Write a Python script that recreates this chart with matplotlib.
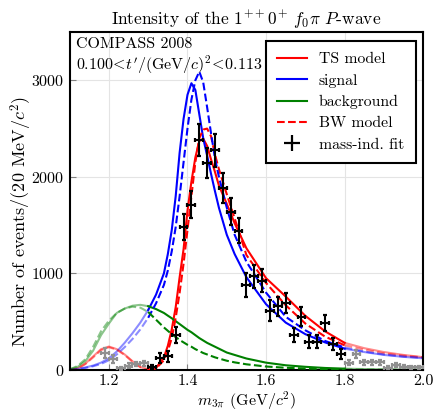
import numpy as np
import matplotlib
matplotlib.use("Agg")
import matplotlib.pyplot as plt

plt.rcParams["font.family"] = ["cmr10", "DejaVu Serif"]
plt.rcParams["mathtext.fontset"] = "cm"
plt.rcParams["axes.formatter.use_mathtext"] = True
plt.rcParams["font.size"] = 11

# model curves on a common mass grid (GeV/c^2)
mass = [1.10, 1.12, 1.14, 1.16, 1.18, 1.20, 1.22, 1.24, 1.26, 1.28, 1.30,
        1.32, 1.34, 1.35, 1.36, 1.37, 1.38, 1.39, 1.40, 1.41, 1.42, 1.43,
        1.44, 1.45, 1.46, 1.47, 1.48, 1.50, 1.52, 1.55, 1.60, 1.65, 1.70,
        1.75, 1.80, 1.85, 1.90, 1.95, 2.00]
ts_model = [0, 15, 65, 140, 215, 242, 215, 160, 90, 30, 3,
            20, 130, 250, 420, 650, 960, 1250, 1650, 1950, 2200, 2370,
            2395, 2320, 2180, 2050, 1910, 1720, 1520, 1260, 950, 760, 560,
            400, 280, 225, 185, 155, 132]
ts_signal = [3, 10, 25, 45, 75, 120, 190, 280, 380, 490, 620,
             780, 1000, 1200, 1450, 1800, 2250, 2600, 2850, 2970, 2900, 2650,
             2400, 2220, 2030, 1850, 1680, 1400, 1200, 960, 680, 490, 370,
             285, 220, 185, 155, 135, 120]
ts_background = [5, 30, 90, 200, 360, 480, 590, 635, 665, 674, 660,
                 630, 590, 562, 535, 505, 475, 445, 415, 390, 360, 330,
                 305, 280, 260, 240, 220, 180, 155, 118, 75, 48, 32,
                 20, 13, 9, 6, 4, 3]
bw_model = [0, 12, 60, 130, 205, 235, 210, 155, 85, 28, 3,
            15, 100, 195, 330, 540, 800, 1100, 1450, 1800, 2150, 2400,
            2490, 2500, 2420, 2230, 2080, 1820, 1570, 1190, 900, 670, 480,
            345, 255, 210, 172, 148, 130]
bw_signal = [2, 8, 20, 38, 62, 100, 160, 235, 320, 420, 540,
             690, 880, 1030, 1230, 1480, 1800, 2150, 2500, 2800, 3000, 3090,
             2980, 2720, 2450, 2190, 2000, 1680, 1400, 1120, 800, 550, 410,
             300, 232, 190, 160, 138, 125]
bw_background = [5, 40, 110, 240, 400, 510, 590, 635, 655, 645, 600,
                 520, 440, 405, 370, 340, 310, 285, 260, 240, 215, 195,
                 175, 160, 145, 130, 118, 95, 78, 58, 35, 22, 14,
                 9, 6, 4, 3, 2, 1]

# mass-independent fit points inside the fit range
fit_mass = [1.31, 1.33, 1.35, 1.37, 1.39, 1.41, 1.43, 1.45, 1.47, 1.49,
            1.51, 1.53, 1.55, 1.57, 1.59, 1.61, 1.63, 1.65, 1.67, 1.69,
            1.71, 1.73, 1.75, 1.77, 1.79]
fit_int = [30, 120, 140, 360, 1485, 1710, 2383, 2142, 2273, 1883,
           1641, 1444, 880, 970, 925, 615, 660, 691, 363, 553,
           293, 293, 484, 269, 166]
fit_err = [20, 50, 55, 85, 135, 140, 165, 155, 170, 155,
           140, 130, 120, 120, 120, 105, 100, 105, 75, 100,
           70, 65, 85, 60, 50]

# points outside the fit range
out_mass = [1.19, 1.21, 1.23, 1.25, 1.27, 1.29, 1.81, 1.83, 1.85, 1.87,
            1.89, 1.91, 1.93, 1.95, 1.97, 1.99]
out_int = [173, 111, 17, 45, 62, 69, 76, 166, 80, 80,
           80, 21, 52, 35, 25, 25]
out_err = [50, 40, 15, 25, 25, 25, 25, 40, 25, 25,
           25, 15, 20, 15, 15, 15]

fit_lo, fit_hi = 1.30, 1.80
red, blue, green = "#ff0000", "#0000ff", "#008000"

fig = plt.figure(figsize=(4.35, 4.11), dpi=100)
ax = fig.add_axes([0.160, 0.100, 0.813, 0.822])

x = np.array(mass)
inside = (x >= fit_lo) & (x <= fit_hi)
left = x <= fit_lo
right = x >= fit_hi

curves = [
    (ts_model, red, "-", "TS model"),
    (ts_signal, blue, "-", "signal"),
    (ts_background, green, "-", "background"),
    (bw_model, red, "--", "BW model"),
    (bw_signal, blue, "--", None),
    (bw_background, green, "--", None),
]
for vals, col, ls, lab in curves:
    y = np.array(vals)
    ax.plot(x[inside], y[inside], color=col, ls=ls, lw=1.5, label=lab, zorder=3)
    for m in (left, right):
        ax.plot(x[m], y[m], color=col, ls=ls, lw=1.5, alpha=0.45, zorder=2)

ax.errorbar(out_mass, out_int, xerr=0.01, yerr=out_err, fmt="none",
            ecolor="#909090", elinewidth=1.6, capsize=1.2, capthick=1.6,
            zorder=4)
ax.errorbar(fit_mass, fit_int, xerr=0.01, yerr=fit_err, fmt="none",
            ecolor="black", elinewidth=1.5, capsize=1.2, capthick=1.6,
            zorder=5)
ax.plot([], [], ls="none", marker="+", ms=11, mew=1.6, color="black",
        label="mass-ind. fit")

ax.set_xlim(1.1, 2.0)
ax.set_ylim(0, 3500)
ax.set_xticks([1.2, 1.4, 1.6, 1.8, 2.0])
ax.set_xticklabels(["1.2", "1.4", "1.6", "1.8", "2.0"])
ax.set_yticks([0, 1000, 2000, 3000])
ax.grid(True, color="#e4e4e4", lw=0.8, zorder=0)
ax.set_axisbelow(True)
ax.tick_params(direction="in", length=4, color="#808080", labelsize=11.5)
for s in ax.spines.values():
    s.set_linewidth(1.5)

ax.set_title(r"Intensity of the $1^{++}0^{+}$ $f_0\pi$ $P$-wave",
             fontsize=12.5, pad=5)
ax.set_xlabel(r"$m_{3\pi}$ (GeV$/c^2$)", fontsize=11.5)
ax.set_ylabel(r"Number of events/(20 MeV$/c^2$)", fontsize=13)
ax.xaxis.set_label_coords(0.5, -0.058, transform=ax.transAxes)
ax.xaxis.label.set_va("top")
ax.yaxis.set_label_coords(-0.137, 0.44, transform=ax.transAxes)
ax.yaxis.label.set_va("center")

ax.text(0.018, 0.985, "COMPASS 2008", transform=ax.transAxes,
        ha="left", va="top", fontsize=11.5, zorder=6)
ax.text(0.018, 0.935, r"$0.100\!<\!t'/(\mathrm{GeV}/c)^2\!<\!0.113$",
        transform=ax.transAxes, ha="left", va="top", fontsize=11.5, zorder=6)

leg = ax.legend(loc="upper right", bbox_to_anchor=(0.979, 0.974),
                borderaxespad=0, fancybox=False, framealpha=1,
                edgecolor="black", fontsize=11.3, handlelength=1.9,
                handletextpad=0.75, labelspacing=0.46, borderpad=0.74)
leg.get_frame().set_linewidth(1.5)
leg.set_zorder(10)

fig.savefig("out.png", dpi=100)
